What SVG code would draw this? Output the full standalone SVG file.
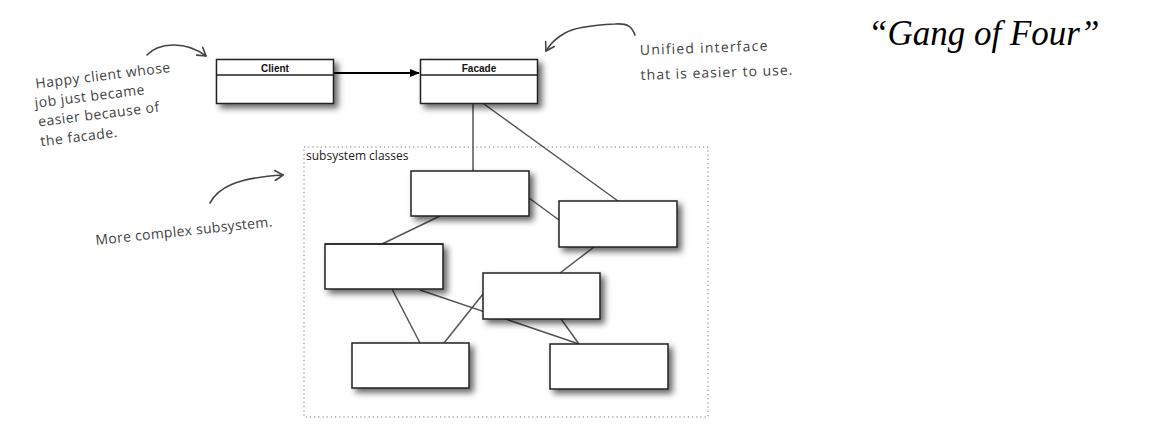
<svg xmlns="http://www.w3.org/2000/svg" width="1150" height="430" viewBox="0 0 1150 430">
<defs>
<filter id="sh" x="-20%" y="-20%" width="150%" height="170%">
<feDropShadow dx="4" dy="4" stdDeviation="3" flood-color="#000" flood-opacity="0.6"/>
</filter>
<marker id="tri" viewBox="0 0 10 10" refX="9" refY="5" markerWidth="10" markerHeight="10" markerUnits="userSpaceOnUse" orient="auto">
<path d="M0,1 L10,5 L0,9 Z" fill="#000"/>
</marker>
<marker id="vee" viewBox="0 0 12 12" refX="10" refY="6" markerWidth="12" markerHeight="12" markerUnits="userSpaceOnUse" orient="auto">
<path d="M2,1 L10,6 L2,11" fill="none" stroke="#444" stroke-width="1.6" stroke-linecap="round" stroke-linejoin="round"/>
</marker>
</defs>
<style>
.box{fill:#fff;stroke:#222;stroke-width:1.5;filter:url(#sh)}
.hdr{stroke:#222;stroke-width:1.3}
.cls{font-family:"Liberation Sans",Arial,sans-serif;font-weight:bold;font-size:10px;fill:#111;text-anchor:middle}
.conn{stroke:#555;stroke-width:1.5;fill:none}
.note{font-family:"Open Sans","Noto Sans",sans-serif;font-size:14px;fill:#444;letter-spacing:0.5px}
.hand{stroke:#444;stroke-width:1.6;fill:none;stroke-linecap:round}
</style>
<rect width="1150" height="430" fill="#fff"/>

<g id="subsystem-frame">
<rect x="304" y="147" width="404" height="270" fill="none" stroke="#777" stroke-width="1" stroke-dasharray="1.2,3"/>
<text x="306" y="160" font-family="'Open Sans','Noto Sans',sans-serif" font-size="12" fill="#222">subsystem classes</text>
</g>

<g id="connectors">
<line x1="333" y1="73" x2="419" y2="73" stroke="#000" stroke-width="2" marker-end="url(#tri)"/>
<line class="conn" x1="473" y1="103" x2="473" y2="171"/>
<line class="conn" x1="484" y1="104" x2="618" y2="201"/>
<line class="conn" x1="529" y1="198" x2="559" y2="220"/>
<line class="conn" x1="440" y1="216" x2="382" y2="244"/>
<line class="conn" x1="594" y1="247" x2="560" y2="273"/>
<line class="conn" x1="392" y1="289" x2="420" y2="343"/>
<line class="conn" x1="420" y1="290" x2="579" y2="344"/>
<line class="conn" x1="483" y1="294" x2="444" y2="343"/>
<line class="conn" x1="561" y1="319" x2="579" y2="344"/>
</g>

<g id="client">
<rect class="box" x="216.5" y="59.5" width="117" height="44"/>
<line class="hdr" x1="216.5" y1="75" x2="333.5" y2="75"/>
<text class="cls" x="275" y="72">Client</text>
</g>
<g id="facade">
<rect class="box" x="420.5" y="59.5" width="117" height="44"/>
<line class="hdr" x1="420.5" y1="75" x2="537.5" y2="75"/>
<text class="cls" x="479" y="72">Facade</text>
</g>

<g id="sub1"><rect class="box" x="411" y="171" width="118" height="45"/></g>
<g id="sub2"><rect class="box" x="559" y="201" width="118" height="46"/></g>
<g id="sub3"><rect class="box" x="325" y="244" width="118" height="45"/><line x1="325" y1="244" x2="443" y2="244" stroke="#111" stroke-width="1.2"/></g>
<g id="sub4"><rect class="box" x="483" y="273" width="117" height="46"/></g>
<g id="sub5"><rect class="box" x="352" y="343" width="117" height="45"/></g>
<g id="sub6"><rect class="box" x="550" y="344" width="118" height="45"/></g>

<g id="note-client">
<g transform="rotate(-7 40 88)">
<text class="note" x="36" y="88">Happy client whose</text>
<text class="note" x="33" y="107">job just became</text>
<text class="note" x="34" y="126">easier because of</text>
<text class="note" x="34" y="146">the facade.</text>
</g>
<path class="hand" d="M147,55 C158,43 185,40 206,56" marker-end="url(#vee)"/>
</g>

<g id="note-facade">
<g transform="rotate(-2 640 55)">
<text class="note" x="640" y="55" font-size="15" style="letter-spacing:1.2px">Unified interface</text>
<text class="note" x="640" y="80" font-size="15" style="letter-spacing:1px">that is easier to use.</text>
</g>
<path class="hand" d="M635,35 C632,27 628,23 615,24 C595,25 575,27 565,33 C556,38 550,44 546,51" marker-end="url(#vee)"/>
</g>

<g id="note-subsystem">
<text class="note" x="96" y="245" font-size="13.5" style="letter-spacing:0.3px" transform="rotate(-6 96 245)">More complex subsystem.</text>
<path class="hand" d="M210,203 C218,188 235,178 283,175" marker-end="url(#vee)"/>
</g>

<g id="title">
<text x="868" y="45" font-family="'Liberation Serif','Times New Roman',serif" font-style="italic" font-size="35" fill="#000">“Gang of Four”</text>
</g>
</svg>
